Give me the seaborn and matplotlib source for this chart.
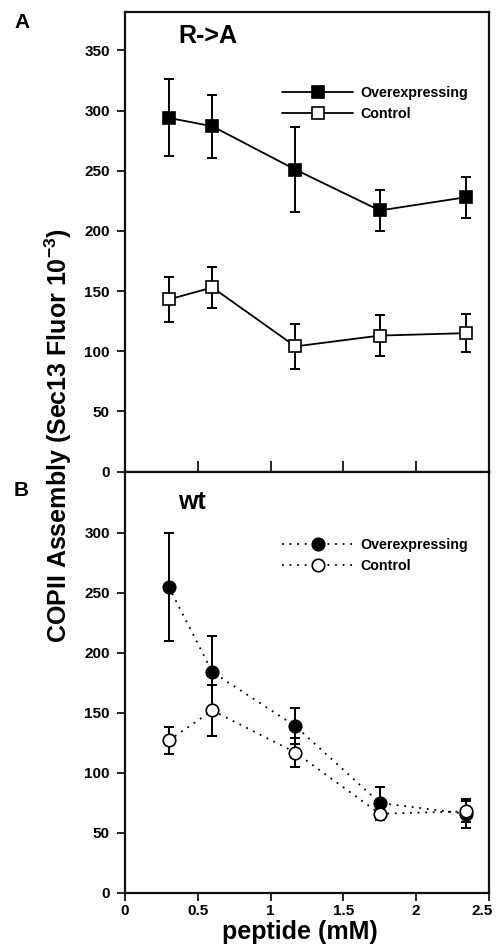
import numpy as np
import matplotlib
matplotlib.use("Agg")
import matplotlib.pyplot as plt
import matplotlib.transforms as mtransforms
import seaborn as sns

# === DADOS ===
peptide = [0.3, 0.6, 1.17, 1.75, 2.34]

ra_over = [294, 287, 251, 217, 228]
ra_over_err = [32, 26, 35, 17, 17]
ra_ctrl = [143, 153, 104, 113, 115]
ra_ctrl_err = [19, 17, 19, 17, 16]

wt_over = [255, 184, 139, 75, 66]
wt_over_err = [45, 30, 15, 13, 12]
wt_ctrl = [127, 152, 117, 66, 68]
wt_ctrl_err = [11, 21, 12, 5, 9]

# === ESTILO ===
sns.set_style("ticks")
plt.rcParams["font.family"] = ["Liberation Sans", "DejaVu Sans"]
plt.rcParams["font.weight"] = "bold"
plt.rcParams["text.color"] = "black"
plt.rcParams["axes.labelcolor"] = "black"
plt.rcParams["xtick.color"] = "black"
plt.rcParams["ytick.color"] = "black"
plt.rcParams["mathtext.fontset"] = "custom"
plt.rcParams["mathtext.rm"] = "Liberation Sans:bold"
plt.rcParams["mathtext.bf"] = "Liberation Sans:bold"
plt.rcParams["mathtext.default"] = "rm"

fig = plt.figure(figsize=(4.97, 9.5), dpi=100)
W, H = 497, 950
axA = fig.add_axes([125 / W, 1 - 471.5 / H, 364 / W, 459.5 / H])
axB = fig.add_axes([125 / W, 1 - 893 / H, 364 / W, 421.5 / H])


def draw(ax, over, over_err, ctrl, ctrl_err, marker, ls):
    ax.errorbar(peptide, over, yerr=over_err, fmt="none", ecolor="black",
                elinewidth=1.4, capsize=3.5, capthick=1.4, zorder=2)
    ax.errorbar(peptide, ctrl, yerr=ctrl_err, fmt="none", ecolor="black",
                elinewidth=1.4, capsize=3.5, capthick=1.4, zorder=2)
    sns.lineplot(x=peptide, y=over, ax=ax, color="black", marker=marker,
                 markersize=9, markerfacecolor="black", markeredgecolor="black",
                 markeredgewidth=1.2, linewidth=1.3, linestyle=ls,
                 label="Overexpressing", zorder=3)
    sns.lineplot(x=peptide, y=ctrl, ax=ax, color="black", marker=marker,
                 markersize=9, markerfacecolor="white", markeredgecolor="black",
                 markeredgewidth=1.2, linewidth=1.3, linestyle=ls,
                 label="Control", zorder=3)
    leg = ax.legend(loc="center left", bbox_to_anchor=(0.431, 0.80),
                    frameon=False, fontsize=10.3, handlelength=5.0,
                    handletextpad=0.5, borderpad=0, borderaxespad=0,
                    labelspacing=0.5)
    for t in leg.get_texts():
        t.set_fontweight("bold")
        t.set_color("black")
    ax.set_xlim(0, 2.5)
    for s in ax.spines.values():
        s.set_visible(True)
        s.set_linewidth(1.6)
        s.set_color("#111111")
    ax.tick_params(axis="y", direction="out", length=6, width=1.2,
                   labelsize=11, pad=5)
    ax.set_xlabel("")
    ax.set_ylabel("")


dotted = (0, (1, 3.2))
draw(axA, ra_over, ra_over_err, ra_ctrl, ra_ctrl_err, "s", "-")
draw(axB, wt_over, wt_over_err, wt_ctrl, wt_ctrl_err, "o", dotted)

axA.set_ylim(0, 382)
axA.set_yticks(np.arange(0, 351, 50))
axA.set_xticks([0.5, 1, 1.5, 2])
axA.tick_params(axis="x", direction="inout", length=16, width=1.2,
                labelbottom=False)

axB.set_ylim(0, 351)
axB.set_yticks(np.arange(0, 301, 50))
axB.set_xticks([0, 0.5, 1, 1.5, 2, 2.5])
axB.set_xticklabels(["0", "0.5", "1", "1.5", "2", "2.5"])
axB.tick_params(axis="x", direction="out", length=6, width=1.2,
                labelsize=11, pad=2)
# o "2.5" fica um pouco à esquerda, como no original
last = axB.get_xticklabels()[-1]
last.set_transform(last.get_transform()
                   + mtransforms.ScaledTranslation(-7 / 100, 0, fig.dpi_scale_trans))

axA.text((178 - 125) / 364, 1 - (36 - 12) / 459.5, "R->A",
         transform=axA.transAxes, fontsize=18, fontweight="bold",
         ha="left", va="center")
axB.text((178 - 125) / 364, 1 - (502 - 471.5) / 421.5, "wt",
         transform=axB.transAxes, fontsize=18, fontweight="bold",
         ha="left", va="center")

fig.text(14 / W, 1 - 23 / H, "A", fontsize=15, fontweight="bold",
         ha="left", va="center")
fig.text(14 / W, 1 - 491 / H, "B", fontsize=15, fontweight="bold",
         ha="left", va="center")

fig.text(58 / W, 1 - 436 / H, "COPII Assembly (Sec13 Fluor 10$^{-3}$)",
         rotation=90, fontsize=18, fontweight="bold", ha="center", va="center")
fig.text(300 / W, 1 - 932 / H, "peptide (mM)", fontsize=18,
         fontweight="bold", ha="center", va="center")

fig.savefig("out.png", dpi=100)
